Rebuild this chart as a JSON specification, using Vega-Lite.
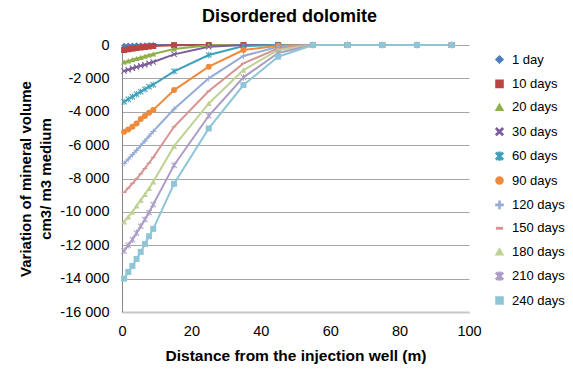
{
  "$schema": "https://vega.github.io/schema/vega-lite/v6.json",
  "autosize": "none",
  "width": 347,
  "height": 267,
  "padding": {"left": 122, "top": 45, "right": 104, "bottom": 65},
  "background": "white",
  "config": {
    "font": "Liberation Sans",
    "view": {"stroke": null},
    "legend": {"labelFont": "Liberation Sans", "labelFontSize": 13, "labelColor": "#000000"}
  },
  "title": {
    "text": "Disordered dolomite",
    "fontSize": 18,
    "font": "Liberation Sans",
    "fontWeight": "bold",
    "color": "#000000",
    "anchor": "middle",
    "frame": "group",
    "offset": 11,
    "dx": -6
  },
  "datasets": {
    "series": [
      {"s": "1 day", "v": [-40,-30,-25,-20,-15,-10,-5,-5,0,0,0,0,0,0,0,0,0]},
      {"s": "10 days", "v": [-300,-260,-220,-180,-150,-120,-90,-60,-10,0,0,0,0,0,0,0,0]},
      {"s": "20 days", "v": [-1020,-950,-880,-810,-740,-670,-600,-540,-240,-20,0,0,0,0,0,0,0]},
      {"s": "30 days", "v": [-1560,-1480,-1400,-1320,-1250,-1180,-1100,-1020,-560,-100,0,0,0,0,0,0,0]},
      {"s": "60 days", "v": [-3400,-3250,-3100,-2950,-2800,-2650,-2500,-2380,-1580,-600,-60,0,0,0,0,0,0]},
      {"s": "90 days", "v": [-5200,-5060,-4900,-4700,-4440,-4260,-4060,-3900,-2700,-1300,-300,-40,0,0,0,0,0]},
      {"s": "120 days", "v": [-7100,-6840,-6580,-6310,-6030,-5750,-5460,-5180,-3840,-2000,-660,-100,0,0,0,0,0]},
      {"s": "150 days", "v": [-8840,-8580,-8300,-8020,-7720,-7400,-7070,-6730,-4900,-2760,-1100,-200,0,0,0,0,0]},
      {"s": "180 days", "v": [-10600,-10300,-10000,-9640,-9300,-8960,-8600,-8200,-6060,-3500,-1500,-300,0,0,0,0,0]},
      {"s": "210 days", "v": [-12340,-12000,-11660,-11260,-10860,-10460,-10040,-9560,-7200,-4240,-1940,-480,0,0,0,0,0]},
      {"s": "240 days", "v": [-14000,-13600,-13240,-12820,-12400,-11920,-11460,-11020,-8320,-5000,-2400,-700,0,0,0,0,0]}
    ],
    "xs": [
      {"d": 0.6, "i": 0}, {"d": 1.8, "i": 1}, {"d": 3.0, "i": 2}, {"d": 4.2, "i": 3},
      {"d": 5.4, "i": 4}, {"d": 6.6, "i": 5}, {"d": 7.8, "i": 6}, {"d": 9.0, "i": 7},
      {"d": 15, "i": 8}, {"d": 25, "i": 9}, {"d": 35, "i": 10}, {"d": 45, "i": 11},
      {"d": 55, "i": 12}, {"d": 65, "i": 13}, {"d": 75, "i": 14}, {"d": 85, "i": 15}, {"d": 95, "i": 16}
    ]
  },
  "data": {"name": "series"},
  "transform": [
    {"flatten": ["v"]},
    {"window": [{"op": "row_number", "as": "rn"}], "groupby": ["s"]},
    {"calculate": "datum.rn - 1", "as": "i"},
    {"lookup": "i", "from": {"data": {"name": "xs"}, "key": "i", "fields": ["d"]}}
  ],
  "encoding": {
    "x": {
      "field": "d", "type": "quantitative",
      "scale": {"domain": [0, 100], "nice": false},
      "axis": {
        "title": "Distance from the injection well (m)",
        "titleFont": "Liberation Sans", "titleFontSize": 15.5, "titleFontWeight": "bold", "titleColor": "#000000",
        "titlePadding": 11,
        "values": [0, 20, 40, 60, 80, 100],
        "grid": false, "ticks": false,
        "domainColor": "#C8C8C8", "domainWidth": 2,
        "labelFont": "Liberation Sans", "labelFontSize": 14.5, "labelColor": "#000000",
        "labelPadding": 12, "labelFlush": false
      }
    },
    "y": {
      "field": "v", "type": "quantitative",
      "scale": {"domain": [-16000, 0], "nice": false},
      "axis": {
        "title": ["Variation of mineral volume", "cm3/ m3 medium"],
        "titleFont": "Liberation Sans", "titleFontSize": 15, "titleFontWeight": "bold", "titleColor": "#000000",
        "titleLineHeight": 20, "titlePadding": 6,
        "values": [0, -2000, -4000, -6000, -8000, -10000, -12000, -14000, -16000],
        "labelExpr": "datum.value == 0 ? '0' : '-' + replace(format(abs(datum.value), ','), ',', ' ')",
        "grid": true, "gridColor": "#A6A6A6", "gridWidth": 1,
        "ticks": false,
        "domainColor": "#868686", "domainWidth": 1,
        "labelFont": "Liberation Sans", "labelFontSize": 14.5, "labelColor": "#000000",
        "labelPadding": 13
      }
    },
    "color": {
      "field": "s", "type": "nominal", "sort": null,
      "scale": {
        "domain": ["1 day", "10 days", "20 days", "30 days", "60 days", "90 days", "120 days", "150 days", "180 days", "210 days", "240 days"],
        "range": ["#4A7EBB", "#B94441", "#8FB04C", "#7A5C9B", "#3FA0B9", "#F08A3B", "#94ABD6", "#D69593", "#BED294", "#AC9DC6", "#8EC6D8"]
      },
      "legend": {
        "title": null, "orient": "none", "legendX": 371, "legendY": 8,
        "rowPadding": 9.4, "symbolSize": 50, "labelOffset": 6, "padding": 0
      }
    }
  },
  "layer": [
    {
      "mark": {"type": "line", "strokeWidth": 2},
      "encoding": {"detail": {"field": "s"}}
    },
    {
      "mark": {"type": "point", "filled": true, "opacity": 1, "size": 36},
      "encoding": {
        "shape": {
          "field": "s", "type": "nominal", "sort": null,
          "scale": {
            "domain": ["1 day", "10 days", "20 days", "30 days", "60 days", "90 days", "120 days", "150 days", "180 days", "210 days", "240 days"],
            "range": [
              "diamond",
              "square",
              "triangle-up",
              "M-1,-0.75L-0.75,-1L0,-0.25L0.75,-1L1,-0.75L0.25,0L1,0.75L0.75,1L0,0.25L-0.75,1L-1,0.75L-0.25,0Z",
              "M-1,-0.75L-0.75,-1L0,-0.25L0.75,-1L1,-0.75L0.25,0L1,0.75L0.75,1L0,0.25L-0.75,1L-1,0.75L-0.25,0Z M-0.15,-1.1L0.15,-1.1L0.15,1.1L-0.15,1.1Z",
              "circle",
              "M-1,-0.15L-0.15,-0.15L-0.15,-1L0.15,-1L0.15,-0.15L1,-0.15L1,0.15L0.15,0.15L0.15,1L-0.15,1L-0.15,0.15L-1,0.15Z",
              "M-0.8,-0.2L0.8,-0.2L0.8,0.2L-0.8,0.2Z",
              "triangle-up",
              "M-1,-0.75L-0.75,-1L0,-0.25L0.75,-1L1,-0.75L0.25,0L1,0.75L0.75,1L0,0.25L-0.75,1L-1,0.75L-0.25,0Z M-0.15,-1.1L0.15,-1.1L0.15,1.1L-0.15,1.1Z",
              "square"
            ]
          },
          "legend": {
            "title": null, "orient": "none", "legendX": 371, "legendY": 8,
            "rowPadding": 9.4, "symbolSize": 50, "labelOffset": 6, "padding": 0
          }
        }
      }
    }
  ]
}
